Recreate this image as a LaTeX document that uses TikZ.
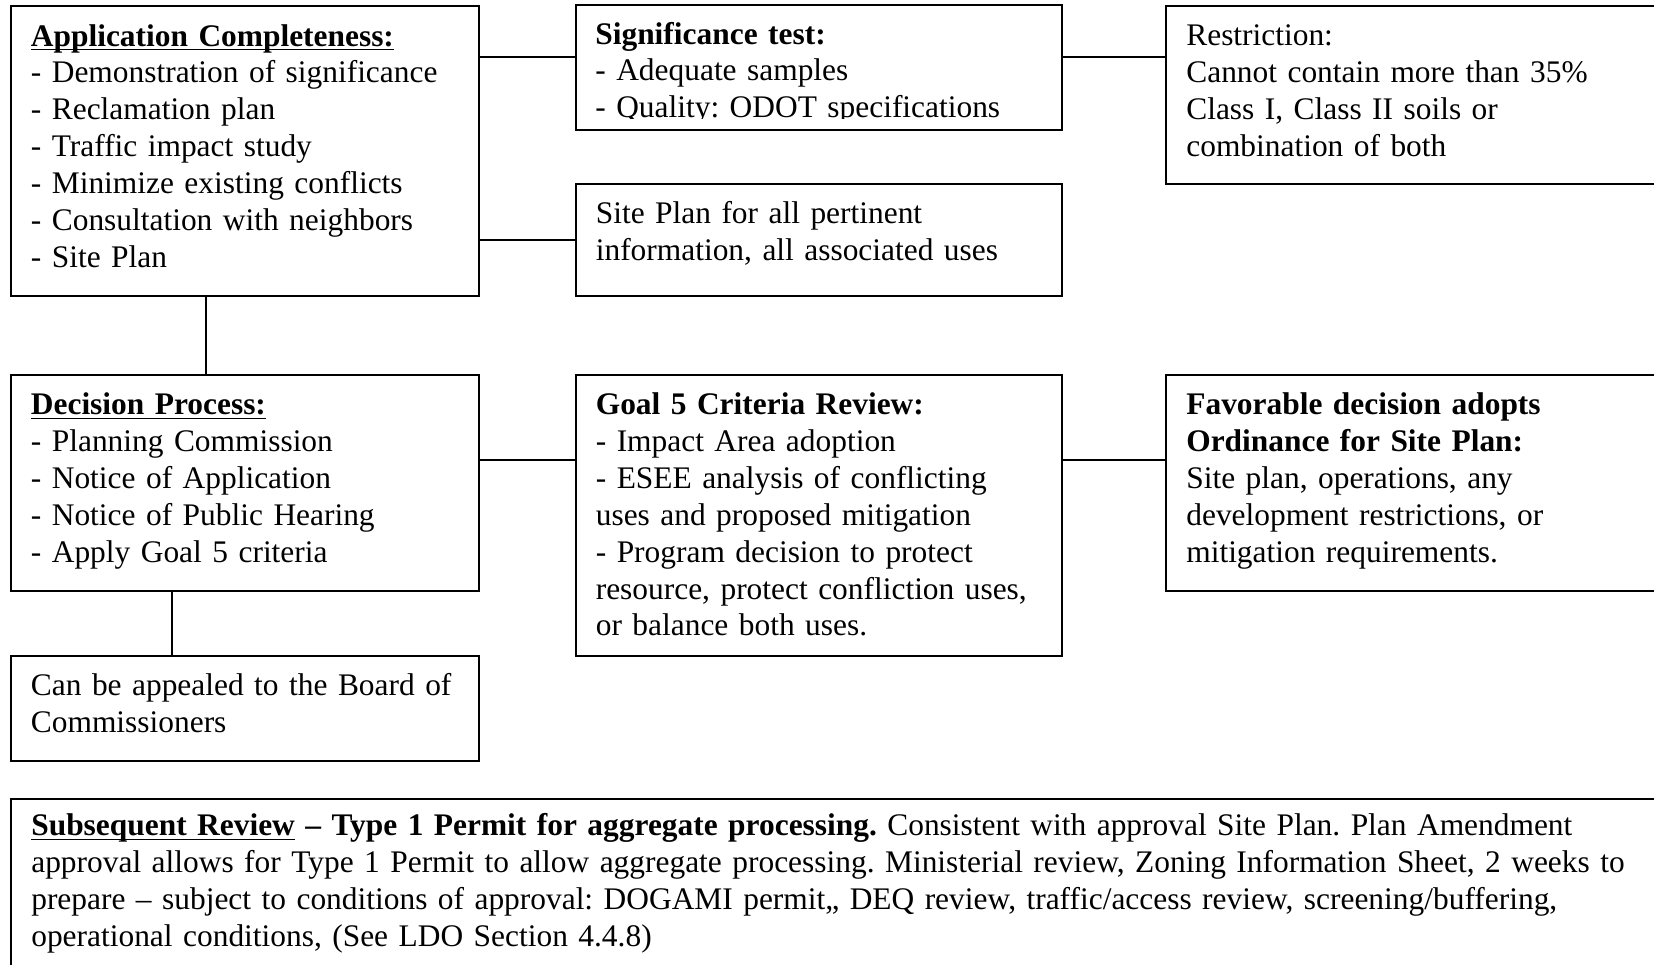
\documentclass[tikz,border=0pt]{standalone}
\usepackage{fontspec}
\setmainfont{Liberation Serif}
\usepackage{tikz}
\frenchspacing
\tikzstyle{plantext} = [anchor=north west, align=left, inner xsep=7.6pt, inner ysep=6.3pt, text height=8.5pt, font=\fontsize{11.75}{13.8}\selectfont]
\tikzstyle{planbox} = [plantext, draw, line width=0.75pt]
\tikzstyle{link} = [draw, line width=0.75pt]
\newcommand{\stage}[5]{
\node (#1) [planbox, text width=#3, text depth=#4] at (#2) {#5};}

\begin{document}
\begin{tikzpicture}[x=0.374pt, y=-0.374pt]
	\useasboundingbox (0,0) rectangle (1654,965);

	% boxes, left column
	\stage{app}{9.6,5.5}{160.1pt}{87.2pt}{\underbar{\textbf{Application Completeness:}}\\
		- Demonstration of significance\\- Reclamation plan\\- Traffic impact study\\
		- Minimize existing conflicts\\- Consultation with neighbors\\- Site Plan}
	\stage{dec}{9.6,374}{160.1pt}{59.7pt}{\underbar{\textbf{Decision Process:}}\\
		- Planning Commission\\- Notice of Application\\- Notice of Public Hearing\\- Apply Goal 5 criteria}
	\stage{appeal}{9.6,655}{160.1pt}{18.2pt}{Can be appealed to the Board of\\Commissioners}

	% boxes, middle column (last line of the test box is cut off)
	\begin{scope}
		\clip (574.5,0) rectangle (1061,118.3);
		\node (sigtext) [plantext, text width=166.75pt] at (574.5,4) {\textbf{Significance test:}\\
			- Adequate samples\\- Quality: ODOT specifications};
	\end{scope}
	\stage{sig}{574.5,4}{166.75pt}{25.8pt}{}
	\stage{site}{574.5,182.7}{166.75pt}{20.9pt}{Site Plan for all pertinent\\information, all associated uses}
	\stage{goal}{574.5,374}{166.75pt}{84pt}{\textbf{Goal 5 Criteria Review:}\\
		- Impact Area adoption\\- ESEE analysis of conflicting\\uses and proposed mitigation\\
		- Program decision to protect\\resource, protect confliction uses,\\or balance both uses.}

	% boxes, right column
	\stage{restr}{1165,5}{184.8pt}{45.4pt}{Restriction:\\Cannot contain more than 35\%\\
		Class I, Class II soils or\\combination of both}
	\stage{fav}{1165,374}{184.8pt}{59.7pt}{\textbf{Favorable decision adopts}\\
		\textbf{Ordinance for Site Plan:}\\Site plan, operations, any\\
		development restrictions, or\\mitigation requirements.}

	% bottom box
	\node (subseq) [planbox, text width=616.8pt, text height=7.5pt, text depth=60pt] at (10,797.7)
		{\underbar{\textbf{Subsequent Review}} \textbf{-- Type 1 Permit for aggregate processing.} Consistent with approval Site Plan. Plan Amendment\\
		approval allows for Type 1 Permit to allow aggregate processing. Ministerial review, Zoning Information Sheet, 2 weeks to\\
		prepare -- subject to conditions of approval: DOGAMI permit,, DEQ review, traffic/access review, screening/buffering,\\
		operational conditions, (See LDO Section 4.4.8)};

	% connecting lines
	\path [link] ([yshift=35.2pt]app.east) -- ([yshift=35.2pt]app.east -| sig.west);
	\path [link] ([yshift=4pt]sig.east) -- ([yshift=4pt]sig.east -| restr.west);
	\path [link] (app.east |- site.west) -- (site.west);
	\path [link] ([xshift=-14.7pt]app.south) -- ([xshift=-14.7pt]dec.north);
	\path [link] ([yshift=8.5pt]dec.east) -- ([yshift=8.5pt]dec.east -| goal.west);
	\path [link] ([yshift=8.5pt]fav.west -| goal.east) -- ([yshift=8.5pt]fav.west);
	\path [link] ([xshift=-27.3pt]dec.south) -- ([xshift=-27.3pt]appeal.north);

\end{tikzpicture}
\end{document}
